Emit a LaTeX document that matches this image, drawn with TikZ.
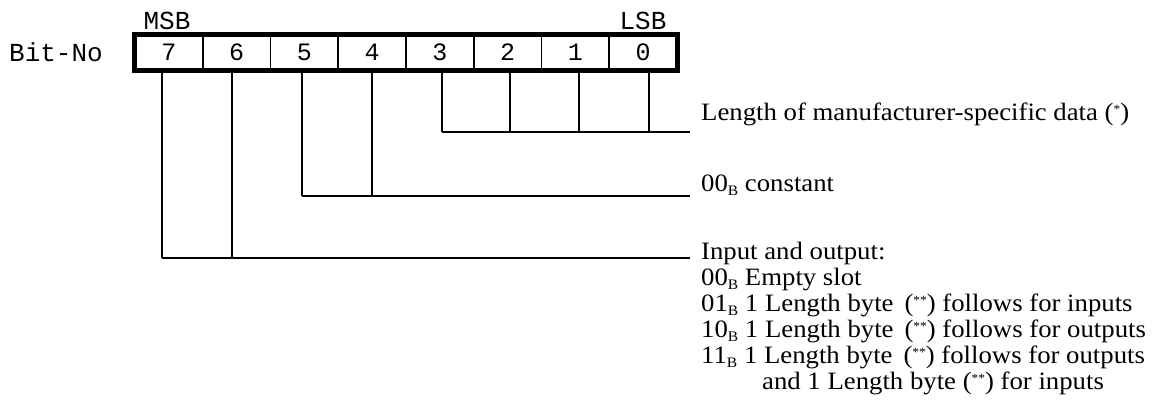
\documentclass[tikz,border=0pt]{standalone}
\usepackage{fontspec}
\setmainfont{Liberation Serif}[FakeStretch=1.07]
\setmonofont{Liberation Mono}
% lowered small index letter, e.g. 00 with index B
\newcommand\bsub[1]{\raisebox{-4pt}{\fontsize{14.5}{14.5}\selectfont #1}}
% raised footnote stars inside brackets
\newcommand\fnmark[1]{(\raisebox{7pt}{\fontsize{12.5}{12.5}\selectfont #1})}
\begin{document}
\begin{tikzpicture}[x=1pt,y=-1pt,
  bitcell/.style={draw, line width=1.6pt, minimum width=67.75pt, minimum height=34pt,
    inner sep=0pt, font=\fontsize{25}{25}\ttfamily},
  frame/.style={line width=5pt},
  wire/.style={line width=1.8pt},
  mono/.style={inner sep=0pt, font=\fontsize{26}{26}\ttfamily},
  note/.style={anchor=base west, inner sep=0pt, font=\fontsize{25}{25}\selectfont}]
\useasboundingbox (0,0) rectangle (1159,415);

% register cells, bit 7 (MSB) on the left
\foreach \b [count=\k from 0] in {7,6,5,4,3,2,1,0}
  \node[bitcell] (c\b) at ({168.875+67.75*\k},52.5) {\b};
\draw[frame] (c7.north west) rectangle (c0.south east);

\node[mono] (msb) at (167,21) {MSB};
\node[mono] (lsb) at (643,21) {LSB};
\node[mono] (bitno) at (56,52) {Bit-No};

% field descriptions
\node[note] (t1) at (701,120) {Length of manufacturer-specific data \fnmark{*}};
\node[note] (t2) at (701,191) {00\bsub{B} constant};
\node[note] (t3) at (701,259) {Input and output:};
\node[note] (t4) at (701,285) {00\bsub{B} Empty slot};
\node[note] (t5) at (701,311) {01\bsub{B} 1 Length byte\hspace{11pt}\fnmark{**} follows for inputs};
\node[note] (t6) at (701,337) {10\bsub{B} 1 Length byte\hspace{11pt}\fnmark{**} follows for outputs};
\node[note] (t7) at (701,363) {11\bsub{B} 1 Length byte\hspace{11pt}\fnmark{**} follows for outputs};
\node[note] (t8) at (762,389) {and 1 Length byte \fnmark{**} for inputs};

% bracket ends next to the descriptions
\coordinate (e1) at (690,132);
\coordinate (e2) at (690,196);
\coordinate (e3) at (690,258);

% drop points of the bit lines
\coordinate (k0) at (649,132);
\coordinate (k1) at (579,132);
\coordinate (k2) at (510,132);
\coordinate (k3) at (442,132);
\coordinate (k4) at (372,196);
\coordinate (k5) at (302,196);
\coordinate (k6) at (232,258);
\coordinate (k7) at (162,258);

\foreach \b in {0,...,7}
  \draw[wire] (c\b.south -| k\b) -- (k\b);
\draw[wire] (k3) -- (e1);
\draw[wire] (k5) -- (e2);
\draw[wire] (k7) -- (e3);
\end{tikzpicture}
\end{document}
